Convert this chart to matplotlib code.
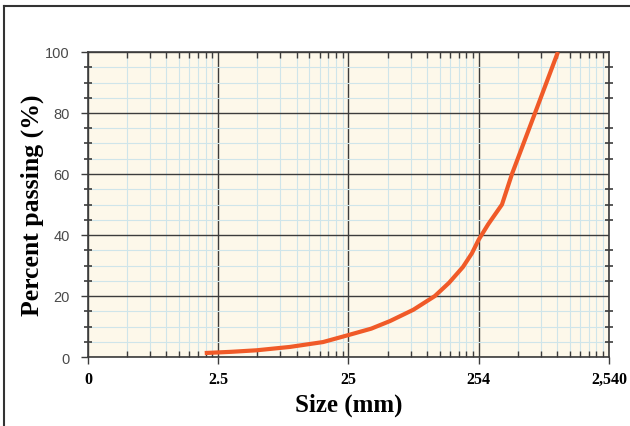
import matplotlib
matplotlib.use("Agg")

import matplotlib.pyplot as plt
from matplotlib.lines import Line2D
from matplotlib.ticker import FixedLocator, NullFormatter

# -----------------------------
# DATA
# -----------------------------
size_mm     = [2.0, 3.2, 5.0, 9.0, 16.2, 25.4, 38, 53, 80, 117, 150, 192, 225,
               254, 300, 383, 457, 687, 1030]
pct_passing = [1.3, 1.7, 2.2, 3.3, 4.9, 7.2, 9.3, 11.8, 15.5, 20.0, 24.3, 29.5,
               34.0, 38.5, 43.5, 50.0, 60.0, 80.0, 100.0]

x_ticks       = [0.254, 2.54, 25.4, 254, 2540]
x_tick_labels = ["0", "2.5", "25", "254", "2,540"]
y_ticks       = [0, 20, 40, 60, 80, 100]

# -----------------------------
# STYLE
# -----------------------------
BG_COLOUR    = "#fdf8ea"
MAJOR_GRID   = "#3c3c3c"
MINOR_GRID   = "#cfe5ea"
CURVE_COLOUR = "#f05a28"
SERIF        = "Liberation Serif"

fig = plt.figure(figsize=(6.3, 4.27), dpi=100)
ax = fig.add_axes([88 / 630, 1 - 358 / 427, (609 - 88) / 630, (358 - 53) / 427])
ax.set_facecolor(BG_COLOUR)

ax.set_xscale("log")
ax.set_xlim(0.254, 2540)
ax.set_ylim(0, 100)

# minor grid positions
x_minor = [d * m for d in [0.254, 2.54, 25.4, 254] for m in range(2, 10)]
y_minor = [v for v in range(5, 100, 5) if v % 20 != 0]

ax.xaxis.set_major_locator(FixedLocator(x_ticks))
ax.xaxis.set_minor_locator(FixedLocator(x_minor))
ax.xaxis.set_minor_formatter(NullFormatter())
ax.set_xticklabels(x_tick_labels, fontfamily=SERIF, fontweight="bold", fontsize=11.5)

ax.yaxis.set_major_locator(FixedLocator(y_ticks))
ax.yaxis.set_minor_locator(FixedLocator(y_minor))
ax.set_yticklabels([str(v) for v in y_ticks], fontfamily="Liberation Sans",
                   fontsize=10.5, color="#4a4a4a")

ax.grid(which="minor", color=MINOR_GRID, linewidth=0.8)
ax.grid(which="major", color=MAJOR_GRID, linewidth=1.0)
ax.set_axisbelow(True)

ax.tick_params(axis="x", which="major", direction="out", length=5, width=1,
               color=MAJOR_GRID, pad=5)
ax.tick_params(axis="x", which="minor", direction="in", length=4, width=1,
               color=MAJOR_GRID, top=True)
ax.tick_params(axis="y", which="major", direction="out", length=5, width=1,
               color=MAJOR_GRID, pad=8)
ax.tick_params(axis="y", which="minor", direction="inout", length=6, width=1.2,
               color=MAJOR_GRID, right=True)

for side in ["left", "right", "top", "bottom"]:
    ax.spines[side].set_color(MAJOR_GRID)
    ax.spines[side].set_linewidth(1.2)

ax.plot(size_mm, pct_passing, color=CURVE_COLOUR, linewidth=3,
        solid_capstyle="butt", solid_joinstyle="round", zorder=3)

ax.set_xlabel("Size (mm)", fontfamily=SERIF, fontweight="bold", fontsize=18,
              labelpad=4)
ax.set_ylabel("Percent passing (%)", fontfamily=SERIF, fontweight="bold",
              fontsize=18.5, labelpad=1)

# outer frame (top and left edges)
fig.add_artist(Line2D([4 / 630, 1.0], [1 - 7 / 427, 1 - 7 / 427],
                      transform=fig.transFigure, color="#333333", linewidth=1.5))
fig.add_artist(Line2D([4 / 630, 4 / 630], [0.0, 1 - 7 / 427],
                      transform=fig.transFigure, color="#333333", linewidth=1.5))

fig.savefig("out.png", dpi=100)
